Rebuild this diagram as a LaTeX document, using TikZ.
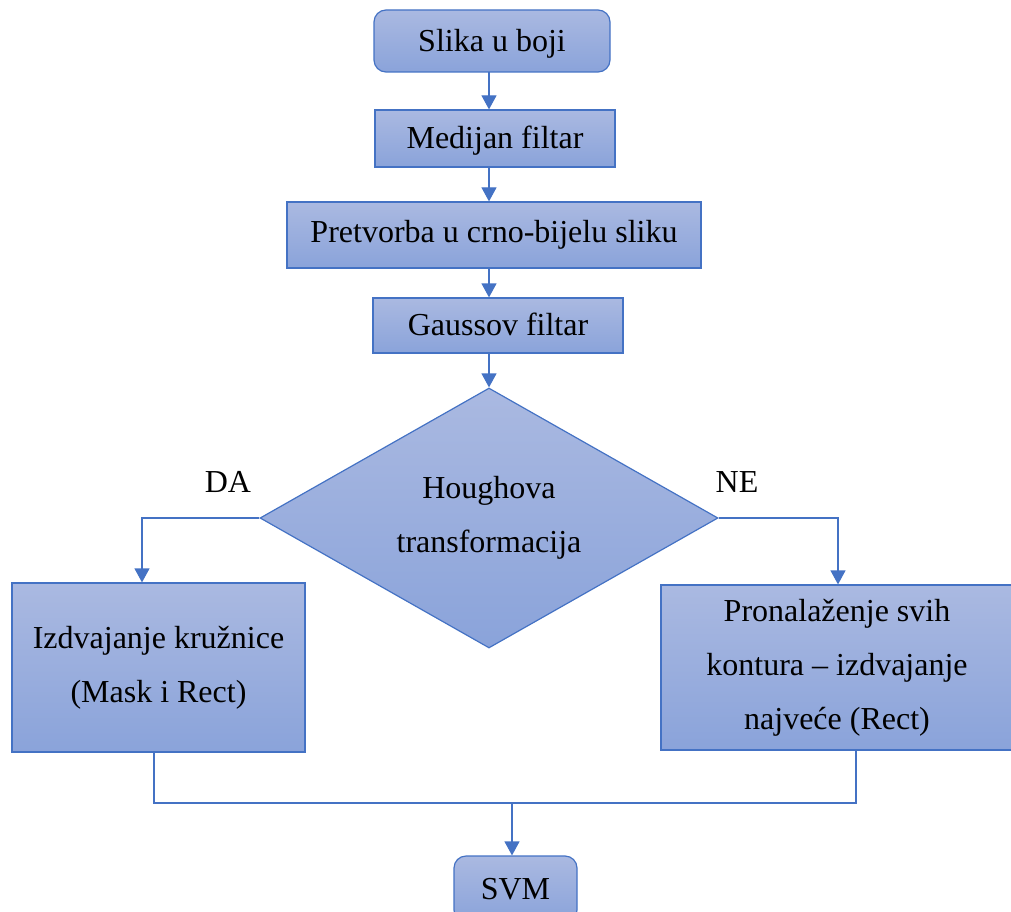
\documentclass[tikz,border=0pt]{standalone}
\usepackage{fontspec}
\setmainfont{Liberation Serif}
\usetikzlibrary{arrows.meta,shapes.geometric}
\definecolor{bord}{HTML}{4472C4}
\definecolor{ftop}{HTML}{AAB9E1}
\definecolor{fbot}{HTML}{8AA3DA}
\tikzset{
  box/.style={draw=bord, line width=1.2pt, top color=ftop, bottom color=fbot, inner sep=0pt, align=center, font=\fontsize{32}{54}\selectfont},
  rbox/.style={box, rounded corners=12pt},
  dec/.style={box, diamond, aspect=1.76},
  conn/.style={draw=bord, line width=1.2pt},
  arr/.style={conn, -{Triangle[width=15pt,length=14pt]}},
  lab/.style={font=\fontsize{32}{36}\selectfont, inner sep=0pt}
}
\begin{document}
\begin{tikzpicture}[x=1pt,y=-1pt]
\useasboundingbox (0,0) rectangle (1011,912);
\clip (0,0) rectangle (1011,912);
\node[rbox, minimum width=236pt, minimum height=62pt, text depth=2pt] (n1) at (492,41) {Slika u boji};
\node[box, minimum width=240pt, minimum height=57pt, text depth=2pt] (n2) at (495,138.5) {Medijan filtar};
\node[box, minimum width=414pt, minimum height=66pt] (n3) at (494,235) {Pretvorba u crno-bijelu sliku};
\node[box, minimum width=250pt, minimum height=55pt, text depth=2pt] (n4) at (498,325.5) {Gaussov filtar};
\node[dec, minimum width=458pt, minimum height=260pt] (d) at (489,518) {Houghova\\transformacija};
\node[box, minimum width=293pt, minimum height=169pt] (l) at (158.5,667.5) {Izdvajanje kružnice\\(Mask i Rect)};
\node[box, minimum width=352pt, minimum height=165pt] (r) at (837,667.5) {Pronalaženje svih\\kontura – izdvajanje\\najveće (Rect)};
\node[rbox, minimum width=123pt, minimum height=66pt] (s) at (515.5,889) {SVM};
\node[lab] (da) at (228,482) {DA};
\node[lab] (ne) at (737,482) {NE};
\coordinate (dl) at (142,518);
\coordinate (dr) at (838,518);
\coordinate (lb) at (154,803);
\coordinate (rb) at (856,803);
\coordinate (mid) at (512,803);
\draw[arr] (489,72) -- (n2.north -| 489,0);
\draw[arr] (489,167) -- (n3.north -| 489,0);
\draw[arr] (489,268) -- (n4.north -| 489,0);
\draw[arr] (489,353) -- (d.north);
\draw[arr] (d.west) -- (dl) -- (l.north -| dl);
\draw[arr] (d.east) -- (dr) -- (r.north -| dr);
\draw[conn] (l.south -| lb) -- (lb) -- (rb) -- (r.south -| rb);
\draw[arr] (mid) -- (s.north -| mid);
\end{tikzpicture}
\end{document}
